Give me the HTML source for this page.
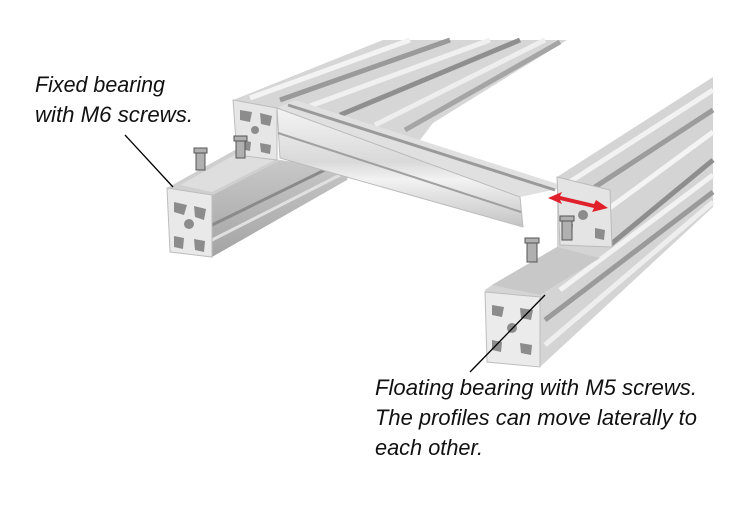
<!DOCTYPE html>
<html><head><meta charset="utf-8"><style>html,body{margin:0;padding:0;background:#fff}svg{display:block}</style></head>
<body>
<svg width="750" height="527" viewBox="0 0 750 527" xmlns="http://www.w3.org/2000/svg">
<defs>
<linearGradient id="beam" x1="0" y1="0" x2="0" y2="1"><stop offset="0" stop-color="#f4f4f4"/><stop offset="0.45" stop-color="#d9d9d9"/><stop offset="0.6" stop-color="#f2f2f2"/><stop offset="1" stop-color="#c4c4c4"/></linearGradient>
<linearGradient id="side" x1="0" y1="0" x2="0" y2="1"><stop offset="0" stop-color="#c8c8c8"/><stop offset="1" stop-color="#a4a4a4"/></linearGradient>
</defs>
<rect width="750" height="527" fill="#fff"/>
<!-- back region of left rail -->
<polygon points="233,100 383,40 567,40 433,123 420,140 277,108" fill="#d6d6d6"/>
<g stroke-width="5" fill="none">
<line x1="250" y1="98" x2="410" y2="40" stroke="#f3f3f3"/>
<line x1="280" y1="100" x2="450" y2="40" stroke="#9a9a9a"/>
<line x1="310" y1="106" x2="490" y2="40" stroke="#f0f0f0"/>
<line x1="340" y1="115" x2="520" y2="40" stroke="#8f8f8f"/>
<line x1="375" y1="125" x2="545" y2="40" stroke="#eeeeee"/>
<line x1="405" y1="130" x2="560" y2="42" stroke="#a5a5a5"/>
</g>
<!-- left rail side -->
<polygon points="212,195 280,160 350,170 347,180 212,257" fill="url(#side)"/>
<line x1="212" y1="225" x2="335" y2="165" stroke="#8a8a8a" stroke-width="3"/>
<line x1="212" y1="240" x2="340" y2="175" stroke="#e0e0e0" stroke-width="3"/>
<!-- left rail top -->
<polygon points="167,188 235,150 280,160 212,195" fill="#cfcfcf"/>
<polygon points="180,185 240,152 275,160 212,192" fill="#dedede"/>
<!-- left front face -->
<polygon points="167,188 212,195 212,257 170,252" fill="#e9e9e9" stroke="#bdbdbd"/>
<g fill="#8c8c8c">
<path d="M174,202 l13,3 -3,10 -10,-3z"/><path d="M194,206 l12,3 -2,11 -9,-3z"/><path d="M174,236 l10,2 -1,11 -9,-2z"/><path d="M194,239 l11,2 -1,11 -9,-2z"/>
<circle cx="189" cy="224" r="5"/>
</g>
<!-- end face of back rail -->
<polygon points="233,100 277,108 277,160 237,155" fill="#e6e6e6" stroke="#bdbdbd"/>
<g fill="#8c8c8c">
<path d="M240,110 l12,2 -2,10 -10,-2z"/><path d="M260,113 l12,3 -2,10 -9,-2z"/><path d="M241,140 l10,2 -1,9 -9,-2z"/><path d="M260,143 l11,2 -1,9 -9,-2z"/>
<circle cx="255" cy="130" r="4"/>
</g>
<!-- screws left -->
<g fill="#b0b0b0" stroke="#555" stroke-width="1">
<rect x="196" y="150" width="9" height="20"/><rect x="194" y="148" width="13" height="5"/>
<rect x="236" y="138" width="9" height="20"/><rect x="234" y="136" width="13" height="5"/>
</g>
<!-- cross beam -->
<polygon points="277,108 295,100 567,187 520,197" fill="#e0e0e0"/>
<line x1="288" y1="105" x2="555" y2="190" stroke="#9a9a9a" stroke-width="3"/>
<polygon points="277,108 520,197 523,227 280,158" fill="url(#beam)" stroke="#bbb"/>
<line x1="278" y1="133" x2="521" y2="212" stroke="#a0a0a0" stroke-width="2"/>
<!-- right structure -->
<polygon points="485,290 492,285 557,247 557,177 713,77 713,207 540,367 487,362" fill="#d4d4d4"/>
<g stroke-width="5" fill="none">
<line x1="565" y1="185" x2="713" y2="90" stroke="#f2f2f2"/>
<line x1="575" y1="200" x2="713" y2="110" stroke="#9c9c9c"/>
<line x1="600" y1="215" x2="713" y2="132" stroke="#f4f4f4"/>
<line x1="610" y1="245" x2="713" y2="160" stroke="#8e8e8e"/>
<line x1="560" y1="290" x2="713" y2="175" stroke="#f2f2f2"/>
<line x1="545" y1="320" x2="713" y2="192" stroke="#9a9a9a"/>
<line x1="545" y1="345" x2="713" y2="202" stroke="#eeeeee"/>
</g>
<polygon points="557,177 610,190 612,247 560,245" fill="#e4e4e4" stroke="#bbb"/>
<g fill="#8c8c8c"><circle cx="583" cy="215" r="5"/><path d="M563,222 l10,2 -1,10 -9,-2z"/><path d="M595,228 l10,2 -1,10 -9,-2z"/></g>
<polygon points="492,285 557,247 600,258 540,295" fill="#c8c8c8"/>
<polygon points="485,292 540,297 540,367 487,362" fill="#ebebeb" stroke="#bdbdbd"/>
<g fill="#8c8c8c">
<path d="M492,305 l12,2 -2,10 -10,-2z"/><path d="M520,308 l13,2 -2,10 -10,-2z"/><path d="M492,340 l10,2 -1,10 -9,-2z"/><path d="M520,343 l12,2 -1,10 -10,-2z"/>
<circle cx="512" cy="328" r="5"/>
</g>
<g fill="#b0b0b0" stroke="#555" stroke-width="1">
<rect x="527" y="240" width="10" height="22"/><rect x="525" y="238" width="14" height="5"/>
<rect x="562" y="218" width="10" height="22"/><rect x="560" y="216" width="14" height="5"/>
</g>
<!-- red arrow -->
<g fill="#e0202a">
<polygon points="548,198 562,192 560,196 594,204 596,200 608,208 592,212 594,208 560,200 562,204"/>
</g>
<!-- leader lines -->
<line x1="125" y1="135" x2="173" y2="187" stroke="#000" stroke-width="1.3"/>
<line x1="470" y1="372" x2="545" y2="295" stroke="#000" stroke-width="1.3"/>
<!-- text -->
<g font-family="Liberation Sans, sans-serif" font-style="italic" font-size="22" fill="#111">
<text x="35" y="92" textLength="130" lengthAdjust="spacingAndGlyphs">Fixed bearing</text>
<text x="35" y="122" textLength="158" lengthAdjust="spacingAndGlyphs">with M6 screws.</text>
<text x="375" y="395" textLength="322" lengthAdjust="spacingAndGlyphs">Floating bearing with M5 screws.</text>
<text x="375" y="425" textLength="322" lengthAdjust="spacingAndGlyphs">The profiles can move laterally to</text>
<text x="375" y="455" textLength="108" lengthAdjust="spacingAndGlyphs">each other.</text>
</g>
</svg>
</body></html>
